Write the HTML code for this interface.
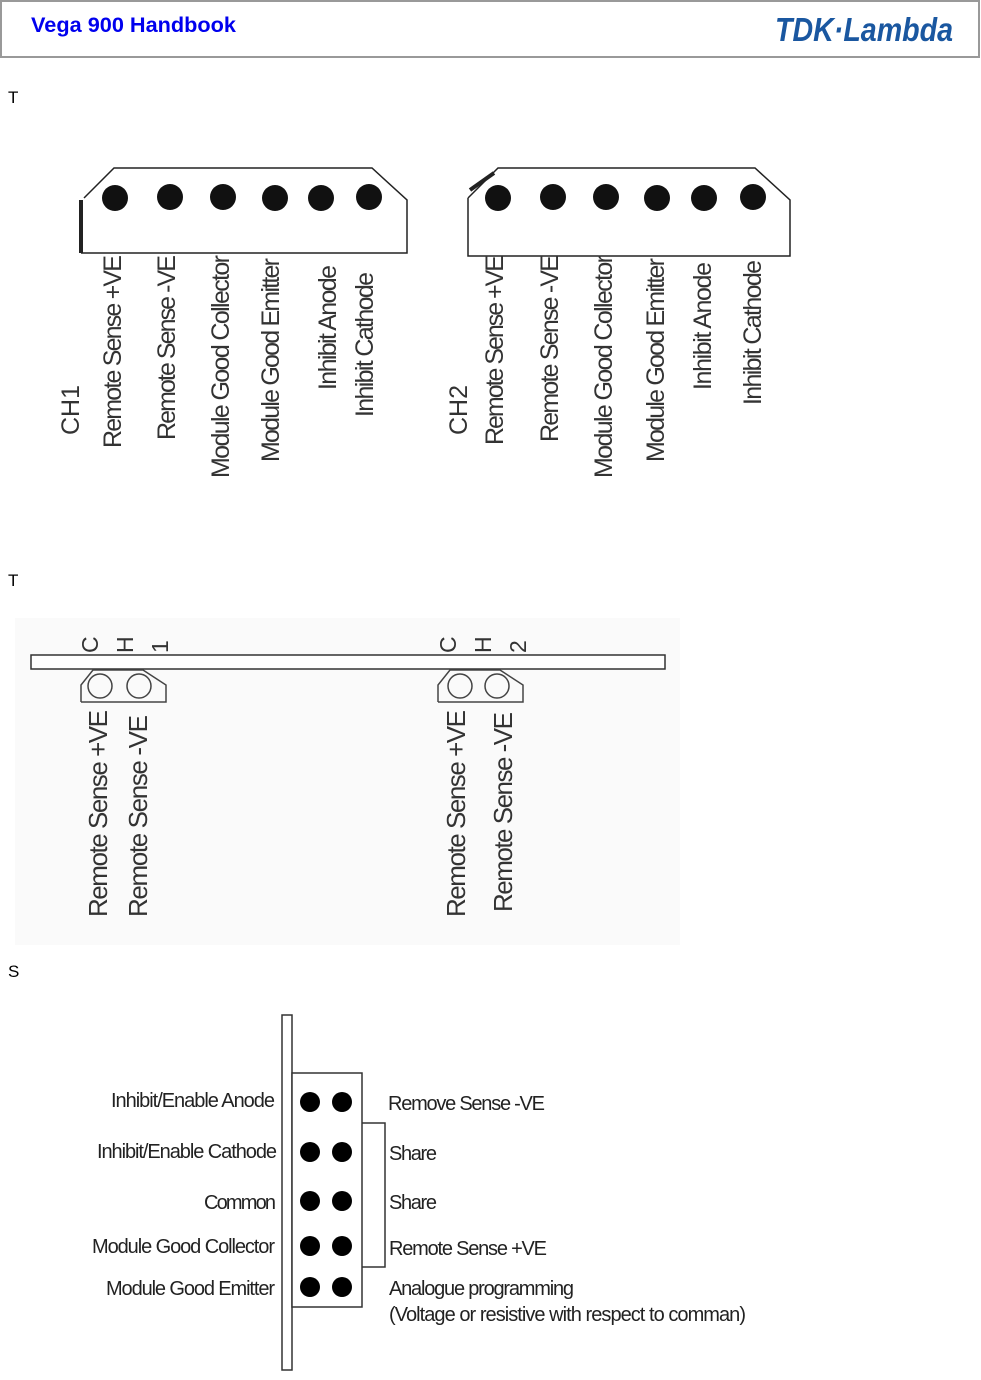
<!DOCTYPE html>
<html><head><style>body{margin:0;background:#fff}svg{display:block}text{font-family:"Liberation Sans",sans-serif}</style></head>
<body>
<svg width="981" height="1380" xmlns="http://www.w3.org/2000/svg">
<rect x="1" y="1" width="978" height="56" fill="#fff" stroke="#999" stroke-width="2"/>
<text x="31" y="32" font-size="21" font-weight="bold" fill="#0000ee" textLength="205" lengthAdjust="spacingAndGlyphs">Vega 900 Handbook</text>
<text x="775" y="41" font-size="33" font-weight="bold" font-style="italic" fill="#1a57a0" textLength="178" lengthAdjust="spacingAndGlyphs">TDK·Lambda</text>
<text x="8" y="103" font-size="17">T</text>
<text x="8" y="586" font-size="17">T</text>
<text x="8" y="977" font-size="17">S</text>

<g fill="none" stroke="#222" stroke-width="1.5">
<polyline points="84,198 114,168 372,168 407,200 407,253 81,253"/>
<line x1="81" y1="200" x2="81" y2="253" stroke-width="4"/>
<polyline points="468,198 498,168 755,168 790,200 790,256 468,256 468,198"/>
<line x1="470" y1="190" x2="494" y2="173" stroke-width="4"/>
</g>
<g fill="#111">
<circle cx="115" cy="198" r="13"/><circle cx="170" cy="197" r="13"/><circle cx="223" cy="197" r="13"/><circle cx="275" cy="198" r="13"/><circle cx="321" cy="198" r="13"/><circle cx="369" cy="197" r="13"/>
<circle cx="498" cy="198" r="13"/><circle cx="553" cy="197" r="13"/><circle cx="606" cy="197" r="13"/><circle cx="657" cy="198" r="13"/><circle cx="704" cy="198" r="13"/><circle cx="753" cy="197" r="13"/>
</g>
<g font-size="25" fill="#333" lengthAdjust="spacingAndGlyphs">
<text transform="translate(79,435) rotate(-90)" textLength="50">CH1</text>
<text transform="translate(121,448) rotate(-90)" textLength="193">Remote Sense +VE</text>
<text transform="translate(175,440) rotate(-90)" textLength="185">Remote Sense -VE</text>
<text transform="translate(229,478) rotate(-90)" textLength="223">Module Good Collector</text>
<text transform="translate(279,462) rotate(-90)" textLength="204">Module Good Emitter</text>
<text transform="translate(336,390) rotate(-90)" textLength="125">Inhibit Anode</text>
<text transform="translate(373,417) rotate(-90)" textLength="145">Inhibit Cathode</text>
<text transform="translate(467,435) rotate(-90)" textLength="50">CH2</text>
<text transform="translate(503,445) rotate(-90)" textLength="190">Remote Sense +VE</text>
<text transform="translate(558,442) rotate(-90)" textLength="187">Remote Sense -VE</text>
<text transform="translate(612,478) rotate(-90)" textLength="223">Module Good Collector</text>
<text transform="translate(664,462) rotate(-90)" textLength="204">Module Good Emitter</text>
<text transform="translate(711,390) rotate(-90)" textLength="128">Inhibit Anode</text>
<text transform="translate(761,405) rotate(-90)" textLength="145">Inhibit Cathode</text>
</g>

<rect x="15" y="618" width="665" height="327" fill="#fafafa"/>
<rect x="31" y="655" width="634" height="14" fill="#fff" stroke="#333" stroke-width="1.5"/>
<g fill="none" stroke="#444" stroke-width="1.5">
<polyline points="81,702 81,685 93,670 143,670 166,685 166,702 81,702"/>
<circle cx="100" cy="686" r="12"/><circle cx="139" cy="686" r="12"/>
<polyline points="438,702 438,685 450,670 500,670 523,685 523,702 438,702"/>
<circle cx="460" cy="686" r="12"/><circle cx="497" cy="686" r="12"/>
</g>
<g font-size="23" fill="#333">
<text transform="translate(98,653) rotate(-90)">C</text>
<text transform="translate(133,653) rotate(-90)">H</text>
<text transform="translate(168,653) rotate(-90)">1</text>
<text transform="translate(456,653) rotate(-90)">C</text>
<text transform="translate(491,653) rotate(-90)">H</text>
<text transform="translate(526,653) rotate(-90)">2</text>
</g>
<g font-size="26" fill="#333" lengthAdjust="spacingAndGlyphs">
<text transform="translate(107,917) rotate(-90)" textLength="207">Remote Sense +VE</text>
<text transform="translate(147,917) rotate(-90)" textLength="202">Remote Sense -VE</text>
<text transform="translate(465,917) rotate(-90)" textLength="207">Remote Sense +VE</text>
<text transform="translate(512,912) rotate(-90)" textLength="200">Remote Sense -VE</text>
</g>

<g fill="#fff" stroke="#333" stroke-width="1.5">
<rect x="282" y="1015" width="10" height="355"/>
<rect x="292" y="1073" width="70" height="234"/>
<polyline points="362,1123 385,1123 385,1267 362,1267" fill="none"/>
</g>
<g fill="#000">
<circle cx="310" cy="1102" r="10"/><circle cx="342" cy="1102" r="10"/>
<circle cx="310" cy="1152" r="10"/><circle cx="342" cy="1152" r="10"/>
<circle cx="310" cy="1201" r="10"/><circle cx="342" cy="1201" r="10"/>
<circle cx="310" cy="1246" r="10"/><circle cx="342" cy="1246" r="10"/>
<circle cx="310" cy="1287" r="10"/><circle cx="342" cy="1287" r="10"/>
</g>
<g font-size="20" fill="#222" lengthAdjust="spacingAndGlyphs">
<text x="275" y="1107" text-anchor="end" textLength="164">Inhibit/Enable Anode</text>
<text x="277" y="1158" text-anchor="end" textLength="180">Inhibit/Enable Cathode</text>
<text x="276" y="1209" text-anchor="end" textLength="72">Common</text>
<text x="275" y="1253" text-anchor="end" textLength="183">Module Good Collector</text>
<text x="275" y="1295" text-anchor="end" textLength="169">Module Good Emitter</text>
<text x="388" y="1110" textLength="157">Remove Sense -VE</text>
<text x="389" y="1160" textLength="48">Share</text>
<text x="389" y="1209" textLength="48">Share</text>
<text x="389" y="1255" textLength="158">Remote Sense +VE</text>
<text x="389" y="1295" textLength="185">Analogue programming</text>
<text x="389" y="1321" textLength="357">(Voltage or resistive with respect to comman)</text>
</g>
</svg>
</body></html>
